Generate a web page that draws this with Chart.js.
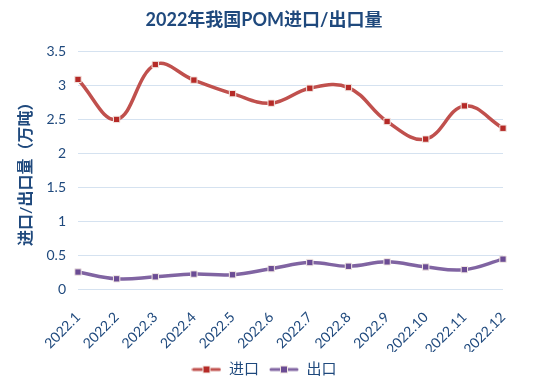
<!DOCTYPE html>
<html><head><meta charset="utf-8">
<script src="https://cdn.jsdelivr.net/npm/chart.js@4"></script>
<style>html,body{margin:0;padding:0;background:#fff}</style>
</head><body>
<canvas id="c" width="539" height="387"></canvas>
<script>
const categories = ['2022.1','2022.2','2022.3','2022.4','2022.5','2022.6','2022.7','2022.8','2022.9','2022.10','2022.11','2022.12'];
const importValues = [3.09, 2.50, 3.31, 3.08, 2.88, 2.74, 2.96, 2.97, 2.47, 2.21, 2.70, 2.37];
const exportValues = [0.25, 0.15, 0.18, 0.22, 0.21, 0.30, 0.39, 0.335, 0.40, 0.325, 0.285, 0.44];
const seriesNames = ['进口', '出口'];
const titleText = '2022年我国POM进口/出口量';
const yAxisTitle = '进口/出口量（万吨）';

const FONT = "Lato, 'Noto Sans CJK SC', sans-serif";
const NAVY = '#1F497D';

function legendIcon(lineColor, fillColor) {
  const cv = document.createElement('canvas');
  cv.width = 30; cv.height = 10;
  const g = cv.getContext('2d');
  g.strokeStyle = lineColor; g.lineWidth = 3; g.lineCap = 'round';
  g.beginPath(); g.moveTo(2, 5); g.lineTo(28, 5); g.stroke();
  g.fillStyle = fillColor; g.fillRect(11, 1, 8, 8);
  g.strokeStyle = '#F2E6E0'; g.lineWidth = 1; g.strokeRect(11.5, 1.5, 7, 7);
  return cv;
}

const colors = [
  {line: '#C0504D', fill: '#B52A27'},
  {line: '#8064A2', fill: '#6B4C94'}
];

new Chart(document.getElementById('c'), {
  type: 'line',
  data: {
    labels: categories,
    datasets: [importValues, exportValues].map((vals, i) => ({
      label: seriesNames[i],
      data: vals,
      borderColor: colors[i].line,
      borderWidth: 3.5,
      tension: 0.4,
      pointStyle: 'rect',
      pointRadius: 4.5,
      pointBackgroundColor: colors[i].fill,
      pointBorderColor: '#F3E9E4',
      pointBorderWidth: 1,
      fill: false
    }))
  },
  options: {
    responsive: false,
    animation: false,
    layout: {padding: {left: 25, right: 36, top: 0, bottom: 0}},
    plugins: {
      title: {
        display: true, text: titleText, color: NAVY,
        font: {family: FONT, size: 18, weight: 'bold'},
        padding: {top: 9, bottom: 21}
      },
      legend: {
        position: 'bottom',
        labels: {
          color: NAVY,
          font: {family: FONT, size: 15},
          usePointStyle: true,
          pointStyleWidth: 30,
          padding: 10,
          generateLabels(chart) {
            return chart.data.datasets.map((ds, i) => ({
              text: ds.label,
              pointStyle: legendIcon(colors[i].line, colors[i].fill),
              fillStyle: colors[i].fill,
              strokeStyle: colors[i].line,
              lineWidth: 0,
              fontColor: NAVY,
              hidden: false,
              datasetIndex: i
            }));
          }
        }
      },
      tooltip: {enabled: false}
    },
    scales: {
      x: {
        offset: false,
        grid: {display: false},
        border: {display: false},
        ticks: {
          color: NAVY, font: {family: FONT, size: 14},
          minRotation: 45, maxRotation: 45, padding: 12
        },
        afterFit(s) { s.height = 63; }
      },
      y: {
        min: 0, max: 3.5,
        ticks: {
          stepSize: 0.5, color: NAVY, font: {family: FONT, size: 14}, padding: 12,
          callback: v => String(v)
        },
        grid: {color: '#D5E2F0', lineWidth: 1, drawTicks: false},
        border: {display: false},
        title: {
          display: true, text: yAxisTitle, color: NAVY,
          font: {family: FONT, size: 16, weight: 'bold'}, padding: {top: -9, bottom: 4}
        },
        afterFit(s) { s.width = 53; }
      }
    }
  }
});
</script>
</body></html>
